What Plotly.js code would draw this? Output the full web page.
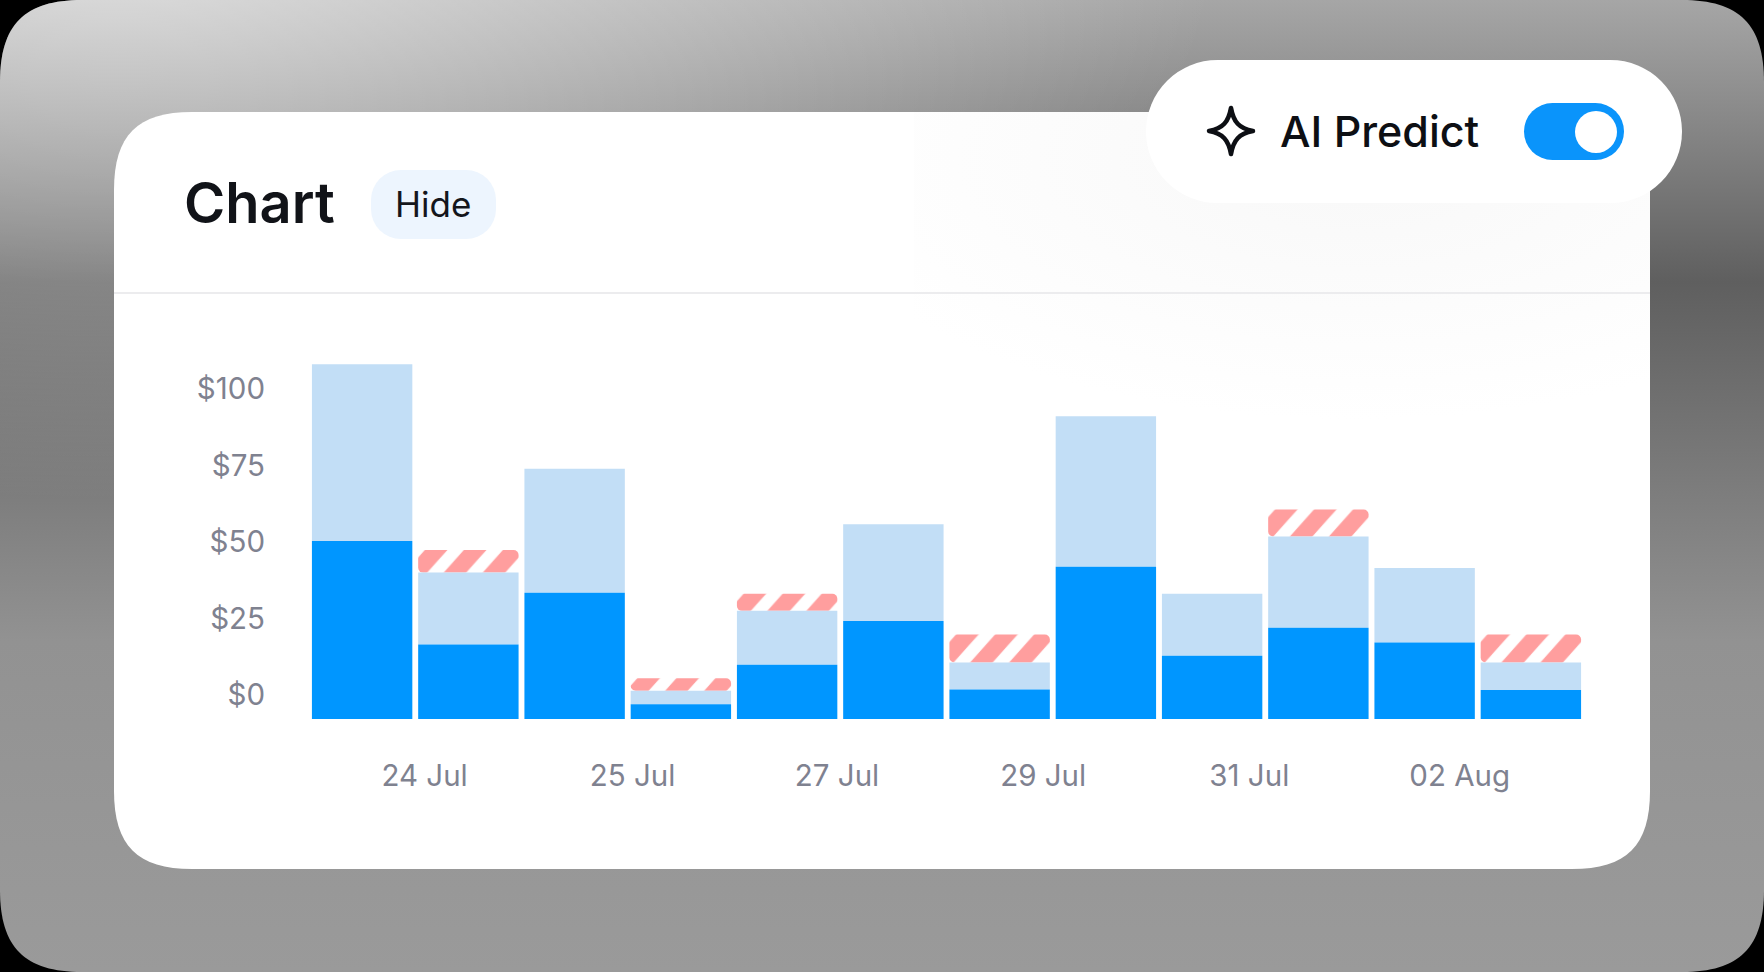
<!DOCTYPE html>
<html>
<head>
<meta charset="utf-8">
<script src="https://cdn.plot.ly/plotly-3.0.1.min.js"></script>
<style>
html,body{margin:0;padding:0;background:#000;width:1764px;height:972px;overflow:hidden}
.abs{position:absolute}
#bg{left:0;top:0;width:1764px;height:972px;
background:
 radial-gradient(1100px 560px at 120px -60px,rgba(255,255,255,.62),rgba(255,255,255,0) 100%),
 linear-gradient(to bottom,#a6a6a6 0%,#5f5f5f 29%,#929292 66%,#9a9a9a 100%);}
#card{left:114px;top:112px;width:1536px;height:757px;background:#fff;overflow:hidden}
#glow{left:800px;top:0;width:736px;height:400px;background:radial-gradient(560px 260px at 60% 12%,#f8f8f8,#ffffff 100%)}
#rule{left:0;top:180px;width:1536px;height:2px;background:#ececee}
#pill{left:1146px;top:60px;width:536px;height:143px;border-radius:72px;background:#fff}
#hide{left:371px;top:170px;width:125px;height:69px;border-radius:30px;background:#edf5fe}
#toggle{left:1524px;top:103px;width:100px;height:57px;border-radius:29px;background:#0a94fb}
#knob{left:1575px;top:110.5px;width:42px;height:42px;border-radius:50%;background:#fff}
#star{left:1206px;top:105px;width:50px;height:52px}
#chart{left:0;top:0;width:1764px;height:972px}
</style>
</head>
<body>
<div id="bg" class="abs"></div>
<div id="card" class="abs"><div id="glow" class="abs"></div><div id="rule" class="abs"></div></div>
<div id="pill" class="abs"></div>
<div id="hide" class="abs"></div>
<div id="toggle" class="abs"></div>
<div id="knob" class="abs"></div>
<svg id="star" class="abs" viewBox="0 0 50 52"><path d="M25 3 C27.5 17 33 23.5 47 26 C33 28.5 27.5 35 25 49 C22.5 35 17 28.5 3 26 C17 23.5 22.5 17 25 3 Z" fill="none" stroke="#0d0f14" stroke-width="4.5" stroke-linejoin="round"/></svg>
<div id="chart" class="abs"></div>
<script>
// Values read against the labelled dollar axis (top of each segment).
const barIndex   = [0,1,2,3,4,5,6,7,8,9,10,11];
const spentTop   = [50.3,16.5,33.4,-3.0,9.9,24.2,1.8,41.9,12.8,22.0,17.2,1.6];
const totalTop   = [108.1,40.0,73.9,1.4,27.5,55.8,10.6,91.1,33.1,51.8,41.5,10.6];
const predictTop = [null,47.4,null,5.5,33.1,null,19.8,null,null,60.6,null,19.8];
const yTickVals  = [0,25,50,75,100];
const yTickText  = ['$0','$25','$50','$75','$100'];
const xTickVals  = [0.588,2.545,4.47,6.41,8.35,10.33];
const xTickText  = ['24 Jul','25 Jul','27 Jul','29 Jul','31 Jul','02 Aug'];
const axisFloor  = -7.84;

const L=308.6,R=1584,T=340,B=719,W=1764,H=972;
const fx=x=>(x-L)/(R-L), fy=y=>(B-y)/(B-T);
const FONT='Inter, "Noto Sans", sans-serif';

function squircle(w,h,r){const d=r*0.3;
 return `path("M${r} 0 L${w-r} 0 C${w-d} 0 ${w} ${d} ${w} ${r} L${w} ${h-r} C${w} ${h-d} ${w-d} ${h} ${w-r} ${h} L${r} ${h} C${d} ${h} 0 ${h-d} 0 ${h-r} L0 ${r} C0 ${d} ${d} 0 ${r} 0 Z")`;}
document.getElementById('bg').style.clipPath=squircle(1764,972,82);
document.getElementById('card').style.clipPath=squircle(1536,757,78);

const traces=[
 {type:'bar',name:'Predicted',x:barIndex,width:0.945,
  base:totalTop.map(v=>v),
  y:predictTop.map((v,i)=>v===null?null:v-totalTop[i]),
  marker:{color:'#ffffff',cornerradius:5,line:{width:0},
    pattern:{shape:'/',fgcolor:'#ff9e9e',bgcolor:'#ffffff',size:27.6,solidity:0.58,fillmode:'replace'}},hoverinfo:'skip'},
 {type:'bar',name:'Total',x:barIndex,width:0.945,
  base:spentTop.map(v=>v),
  y:totalTop.map((v,i)=>v-spentTop[i]),
  marker:{color:'#c2def6',line:{width:0}},hoverinfo:'skip'},
 {type:'bar',name:'Spent',x:barIndex,width:0.945,
  base:spentTop.map(()=>axisFloor),
  y:spentTop.map(v=>v-axisFloor),
  marker:{color:'#0096ff',line:{width:0}},hoverinfo:'skip'}
];

const layout={
 width:W,height:H,autosize:false,showlegend:false,barmode:'overlay',
 paper_bgcolor:'rgba(0,0,0,0)',plot_bgcolor:'rgba(0,0,0,0)',
 margin:{l:L,r:W-R,t:T,b:H-B,pad:0},
 font:{family:FONT},
 title:{text:'Chart',xref:'container',yref:'container',x:184/W,xanchor:'left',y:1-203/H,yanchor:'middle',
   font:{family:FONT,size:56,weight:600,color:'#111318'},pad:{l:0,r:0,t:0,b:0}},
 xaxis:{type:'linear',range:[-0.5,11.5],tickmode:'array',tickvals:xTickVals,ticktext:xTickText,
   showgrid:false,zeroline:false,showline:false,ticks:'',ticklabelstandoff:36,
   tickfont:{family:FONT,size:29.5,color:'#7f8290'},fixedrange:true},
 yaxis:{type:'linear',range:[axisFloor,(695-T)/3.06],tickmode:'array',tickvals:yTickVals,ticktext:yTickText,
   showgrid:false,zeroline:false,showline:false,ticks:'',ticklabelstandoff:43,
   tickfont:{family:FONT,size:29.5,color:'#7f8290'},fixedrange:true},
 annotations:[
  {text:'Hide',xref:'paper',yref:'paper',x:fx(432.5),y:fy(204),xanchor:'center',yanchor:'middle',showarrow:false,
   font:{family:FONT,size:35,color:'#14161c'}},
  {text:'AI Predict',xref:'paper',yref:'paper',x:fx(1278),y:fy(131),xanchor:'left',yanchor:'middle',showarrow:false,
   font:{family:FONT,size:43,weight:500,color:'#0d0f14'}}
 ]
};
Plotly.newPlot('chart',traces,layout,{displayModeBar:false,staticPlot:true}).then(gd=>{
 // Anchor the hatch to each bar's own top-left corner, as the reference does.
 const paths=gd.querySelectorAll('.trace.bars:first-child .point path');
 paths.forEach((p,i)=>{
  const m=(p.style.fill||'').match(/#([^"')]+)/);
  if(!m) return;
  const pat=document.getElementById(m[1]);
  if(!pat) return;
  const b=p.getBBox();
  const c=pat.cloneNode(true);
  c.id=m[1]+'-bar'+i;
  c.setAttribute('patternTransform',`translate(${b.x+18} ${b.y}) skewX(6)`);
  pat.parentNode.appendChild(c);
  p.style.fill=`url(#${c.id})`;
 });
});
</script>
</body>
</html>
